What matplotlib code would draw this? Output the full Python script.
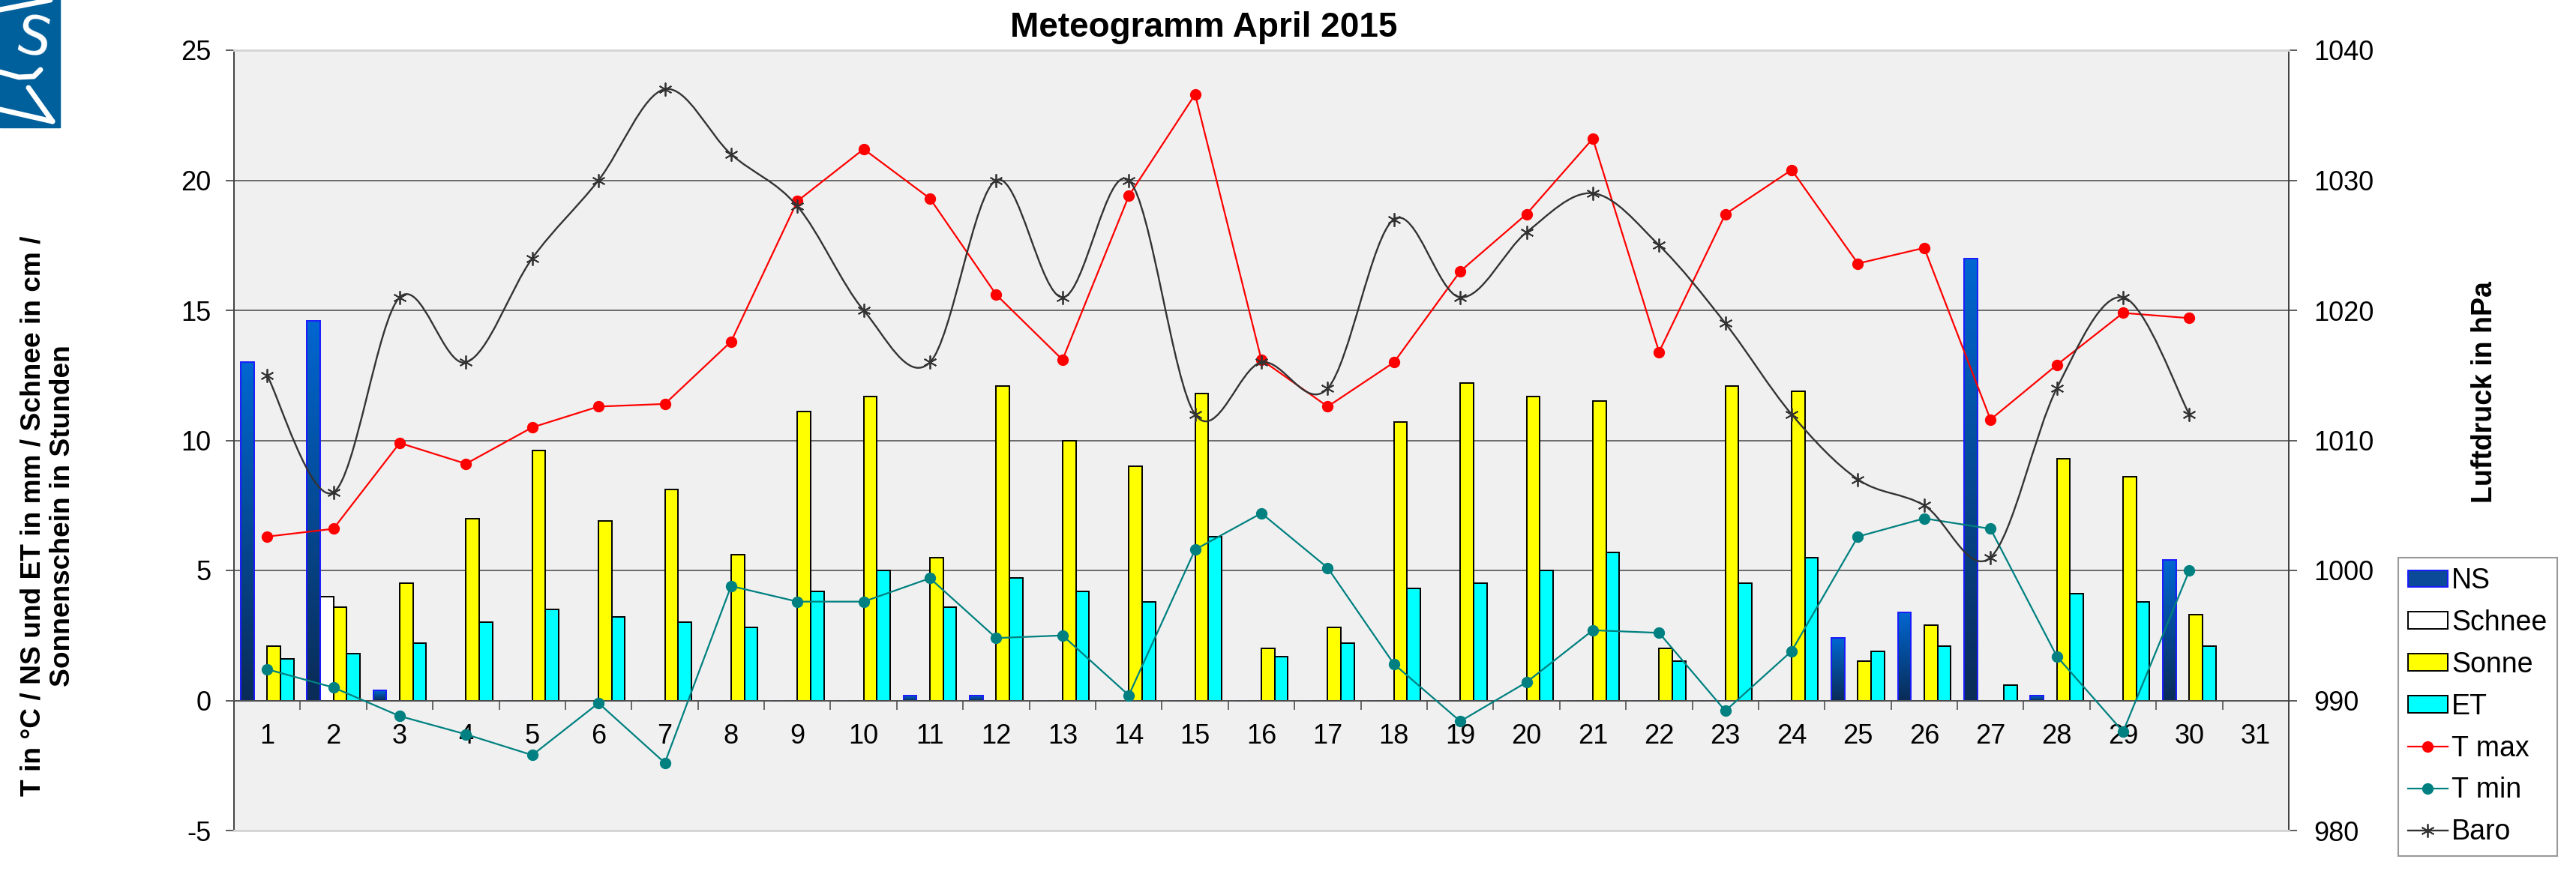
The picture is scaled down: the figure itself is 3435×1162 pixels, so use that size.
import numpy as np
import matplotlib
matplotlib.use("Agg")
import matplotlib.pyplot as plt
from matplotlib.path import Path
from matplotlib.patches import PathPatch, Rectangle, Patch
from matplotlib.lines import Line2D
from matplotlib.colors import LinearSegmentedColormap

plt.rcParams["font.family"] = ["Liberation Sans", "DejaVu Sans"]
plt.rcParams["axes.unicode_minus"] = False

# data (April 2015, days 1..30)
day_labels = [str(d) for d in range(1, 32)]
days = list(range(1, 31))
ns = [13.0, 14.6, 0.4, 0, 0, 0, 0, 0, 0, 0,
      0.2, 0.2, 0, 0, 0, 0, 0, 0, 0, 0,
      0, 0, 0, 0, 2.4, 3.4, 17.0, 0.2, 0, 5.4]
schnee = [0, 4.0, 0, 0, 0, 0, 0, 0, 0, 0,
          0, 0, 0, 0, 0, 0, 0, 0, 0, 0,
          0, 0, 0, 0, 0, 0, 0, 0, 0, 0]
sonne = [2.1, 3.6, 4.5, 7.0, 9.6, 6.9, 8.1, 5.6, 11.1, 11.7,
         5.5, 12.1, 10.0, 9.0, 11.8, 2.0, 2.8, 10.7, 12.2, 11.7,
         11.5, 2.0, 12.1, 11.9, 1.5, 2.9, 0, 9.3, 8.6, 3.3]
et = [1.6, 1.8, 2.2, 3.0, 3.5, 3.2, 3.0, 2.8, 4.2, 5.0,
      3.6, 4.7, 4.2, 3.8, 6.3, 1.7, 2.2, 4.3, 4.5, 5.0,
      5.7, 1.5, 4.5, 5.5, 1.9, 2.1, 0.6, 4.1, 3.8, 2.1]
t_max = [6.3, 6.6, 9.9, 9.1, 10.5, 11.3, 11.4, 13.8, 19.2, 21.2,
         19.3, 15.6, 13.1, 19.4, 23.3, 13.1, 11.3, 13.0, 16.5, 18.7,
         21.6, 13.4, 18.7, 20.4, 16.8, 17.4, 10.8, 12.9, 14.9, 14.7]
t_min = [1.2, 0.5, -0.6, -1.3, -2.1, -0.1, -2.4, 4.4, 3.8, 3.8,
         4.7, 2.4, 2.5, 0.2, 5.8, 7.2, 5.1, 1.4, -0.8, 0.7,
         2.7, 2.6, -0.4, 1.9, 6.3, 7.0, 6.6, 1.7, -1.2, 5.0]
baro = [1015, 1006, 1021, 1016, 1024, 1030, 1037, 1032, 1028, 1020,
        1016, 1030, 1021, 1030, 1012, 1016, 1014, 1027, 1021, 1026,
        1029, 1025, 1019, 1012, 1007, 1005, 1001, 1014, 1021, 1012]

left_ticks = [-5, 0, 5, 10, 15, 20, 25]
right_ticks = [980, 990, 1000, 1010, 1020, 1030, 1040]

W, H = 3435, 1162
fig = plt.figure(figsize=(W / 100, H / 100), dpi=100)
ax = fig.add_axes([312 / W, 1 - 1108 / H, (3052 - 312) / W, (1108 - 67) / H])
ax2 = ax.twinx()

ax.set_facecolor("#f0f0f0")
ax2.patch.set_visible(False)

x = np.array(days)
bw = 0.2

# gridlines
for v in left_ticks[2:-1]:
    ax.axhline(v, color="#5f5f5f", lw=1.3, zorder=1)

# bars
ns_bars = ax.bar(x - 0.3, ns, bw, color="#004a98", edgecolor="none", zorder=2)
grad = LinearSegmentedColormap.from_list("ns", ["#0a2c58", "#0066d0"])
for b in ns_bars:
    h = b.get_height()
    if h <= 0:
        continue
    x0 = b.get_x()
    im = ax.imshow(np.linspace(0, 1, 64).reshape(-1, 1), extent=(x0, x0 + bw, 0, h),
                   origin="lower", cmap=grad, aspect="auto", zorder=2.1)
    im.set_clip_path(b)
ax.bar(x - 0.3, ns, bw, facecolor="none", edgecolor="#1a1aff", lw=1.4, zorder=2.2)
ax.bar(x - 0.1, schnee, bw, color="white", edgecolor="black", lw=1.4, zorder=2)
ax.bar(x + 0.1, sonne, bw, color="#ffff00", edgecolor="black", lw=1.4, zorder=2)
ax.bar(x + 0.3, et, bw, color="#00ffff", edgecolor="black", lw=1.4, zorder=2)

# temperature lines
ax.plot(x, t_max, color="#ff0000", lw=1.6, marker="o", ms=10, zorder=4)
ax.plot(x, t_min, color="#008080", lw=1.6, marker="o", ms=10, zorder=4)


def smooth_path(xs, ys):
    pts = np.column_stack([xs, ys]).astype(float)
    n = len(pts)
    verts = [pts[0]]
    codes = [Path.MOVETO]
    for i in range(n - 1):
        p0 = pts[max(i - 1, 0)]
        p1 = pts[i]
        p2 = pts[i + 1]
        p3 = pts[min(i + 2, n - 1)]
        c1 = p1 + (p2 - p0) / 6
        c2 = p2 - (p3 - p1) / 6
        verts += [c1, c2, p2]
        codes += [Path.CURVE4] * 3
    return Path(verts, codes)


ax2.add_patch(PathPatch(smooth_path(x, baro), facecolor="none",
                        edgecolor="#333333", lw=1.7, zorder=3))
ax2.plot(x, baro, ls="none", marker=(6, 2, 0), ms=13, mew=1.3,
         color="#333333", zorder=4)

# axes / ticks
ax.set_xlim(0.5, 31.5)
ax.set_ylim(-5, 25)
ax2.set_ylim(980, 1040)
ax.set_yticks(left_ticks)
ax2.set_yticks(right_ticks)

ax.spines["bottom"].set_position(("data", 0))
ax.spines["bottom"].set_color("#505050")
ax.spines["bottom"].set_linewidth(1.4)
ax.spines["left"].set_color("#404040")
ax.spines["left"].set_linewidth(1.4)
ax.spines["top"].set_visible(False)
ax.spines["right"].set_visible(False)
ax2.spines["left"].set_visible(False)
ax2.spines["right"].set_color("#404040")
ax2.spines["right"].set_linewidth(1.4)
for s in ("top", "bottom"):
    ax2.spines[s].set_color("#d4d4d4")
    ax2.spines[s].set_linewidth(2)

ax.set_xticks(days + [31])
ax.set_xticklabels(day_labels)
ax.set_xticks(np.arange(1.5, 31, 1), minor=True)
ax.tick_params(axis="x", which="major", length=0, pad=22, labelsize=26)
ax.tick_params(axis="x", which="minor", length=8.5, width=1.2, color="#505050", direction="out")
ax.tick_params(axis="y", length=8, width=1.2, color="#404040", pad=14, labelsize=26)
ax2.tick_params(axis="y", length=8, width=1.2, color="#404040", pad=16, labelsize=26)

# texts
fig.text(1605 / W, 1 - 37 / H, "Meteogramm April 2015", fontsize=33,
         fontweight="bold", ha="center", va="center")
fig.text(64 / W, 1 - 688 / H,
         "T in °C / NS und ET in mm / Schnee in cm /\nSonnenschein in Stunden",
         fontsize=26.7, fontweight="bold", rotation=90, ha="center", va="center",
         multialignment="center", linespacing=1.15)
fig.text(3313 / W, 1 - 523 / H, "Luftdruck in hPa", fontsize=27,
         fontweight="bold", rotation=90, ha="center", va="center")

# legend
handles = [
    Patch(facecolor="#0a4a98", edgecolor="#1a1aff", lw=1.4),
    Patch(facecolor="white", edgecolor="black", lw=1.4),
    Patch(facecolor="#ffff00", edgecolor="black", lw=1.4),
    Patch(facecolor="#00ffff", edgecolor="black", lw=1.4),
    Line2D([], [], color="#ff0000", lw=1.6, marker="o", ms=10),
    Line2D([], [], color="#008080", lw=1.6, marker="o", ms=10),
    Line2D([], [], color="#333333", lw=1.7, marker=(6, 2, 0), ms=13, mew=1.3),
]
labels = ["NS", "Schnee", "Sonne", "ET", "T max", "T min", "Baro"]
leg = fig.legend(handles, labels, loc="upper left",
                 bbox_to_anchor=(3198 / W, 1 - 744 / H), borderaxespad=0,
                 fontsize=27, frameon=True, fancybox=False, edgecolor="#808080",
                 handlelength=1.4, handleheight=0.55, handletextpad=0.15,
                 labelspacing=0.53, borderpad=0.35)
leg.get_frame().set_linewidth(1.5)

# logo
fig.add_artist(Rectangle((0, 1 - 170 / H), 80 / W, 170 / H, transform=fig.transFigure,
                         color="#00609c", zorder=1))
fig.text(44 / W, 1 - 54 / H, "S", color="white", fontsize=52, rotation=-12,
         ha="center", va="center", family="DejaVu Sans")
for seg in ([(0, 13), (67, 0)], [(0, 96), (25, 103), (45, 102), (54, 93)],
            [(38, 117), (70, 162)], [(0, 146), (70, 162)]):
    xs = [p[0] / W for p in seg]
    ys = [1 - p[1] / H for p in seg]
    fig.add_artist(Line2D(xs, ys, color="white", lw=5, transform=fig.transFigure,
                          solid_capstyle="round", zorder=2))

fig.savefig("out.png", dpi=100)
